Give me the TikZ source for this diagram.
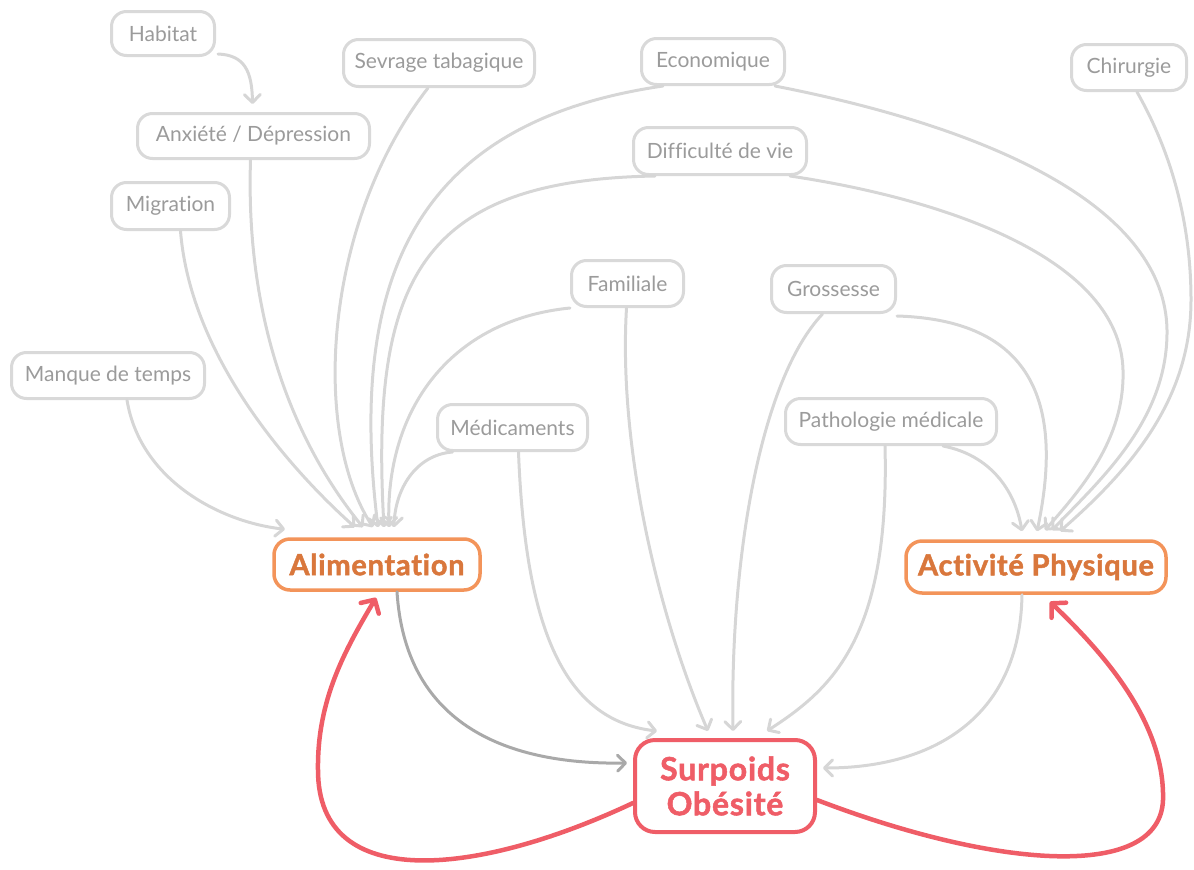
\documentclass[tikz,border=0pt]{standalone}
\usepackage{fontspec}
\setmainfont{Lato}[Ligatures=NoCommon, BoldFeatures={FakeBold=1.6, LetterSpace=2.5}]
\usetikzlibrary{arrows.meta}

\definecolor{boxgray}{HTML}{D9D9D9}
\definecolor{linkgray}{HTML}{D6D6D6}
\definecolor{darklink}{HTML}{A9A9A9}
\definecolor{txtgray}{HTML}{9B9B9B}
\definecolor{orangeline}{HTML}{F3945A}
\definecolor{orangetxt}{HTML}{D9773C}
\definecolor{redline}{HTML}{EF5D67}

\tikzset{
  factor/.style={draw=boxgray, line width=3pt, rounded corners=15pt, fill=white,
    text=txtgray, font=\fontsize{21}{25}\selectfont, inner sep=0pt},
  behaviour/.style={draw=orangeline, line width=3.5pt, rounded corners=16pt, fill=white,
    text=orangetxt, font=\fontsize{29}{34}\selectfont\bfseries, inner sep=0pt},
  outcome/.style={draw=redline, line width=4pt, rounded corners=20pt, fill=white,
    text=redline, font=\fontsize{32}{35}\selectfont\bfseries, inner sep=0pt, align=center},
  link/.style={draw=linkgray, line width=3pt, line cap=round,
    -{Straight Barb[length=8pt,width=16pt,round]}},
  mainlink/.style={link, draw=darklink},
  feedback/.style={draw=redline, line width=4.5pt, line cap=round,
    -{Straight Barb[length=10pt,width=21pt,round]}}
}

\begin{document}
\begin{tikzpicture}[x=1pt, y=-1pt]
\useasboundingbox (0,0) rectangle (1194,870);

% influencing factors
\node[factor, minimum width=103pt, minimum height=44pt] (hab) at (163,33.5) {Habitat};
\node[factor, minimum width=191pt, minimum height=47pt] (sev) at (439,63) {Sevrage tabagique};
\node[factor, minimum width=143pt, minimum height=46pt] (eco) at (713,61.5) {Economique};
\node[factor, minimum width=115pt, minimum height=46pt] (chi) at (1129,67.5) {Chirurgie};
\node[factor, minimum width=232pt, minimum height=45pt] (anx) at (253.5,136) {Anxiété / Dépression};
\node[factor, minimum width=173pt, minimum height=47pt] (dif) at (720,151) {Difficulté de vie};
\node[factor, minimum width=118pt, minimum height=47pt] (mig) at (170.5,206) {Migration};
\node[factor, minimum width=112pt, minimum height=46pt] (fam) at (627.5,283.5) {Familiale};
\node[factor, minimum width=124pt, minimum height=47pt] (gro) at (833.5,289) {Grossesse};
\node[factor, minimum width=193pt, minimum height=46pt] (man) at (108,375.5) {Manque de temps};
\node[factor, minimum width=150pt, minimum height=46pt] (med) at (512.5,427.5) {Médicaments};
\node[factor, minimum width=211pt, minimum height=46pt] (pat) at (891,421.5) {Pathologie médicale};

% behaviours and outcome
\node[behaviour, minimum width=206pt, minimum height=51pt] (ali) at (377,564.5) {Alimentation};
\node[behaviour, minimum width=260pt, minimum height=52pt] (act) at (1036,567) {Activité Physique};
\node[outcome, minimum width=180pt, minimum height=92pt] (sur) at (725,786) {Surpoids\\Obésité};

% factors acting on Alimentation
\draw[link] ([xshift=2pt,yshift=3pt]hab.south east) .. controls (245,55) and (252,72) .. ([xshift=-1pt,yshift=8pt]anx.north);
\draw[link] ([xshift=-3pt]anx.south) .. controls (245,330) and (300,450) .. ([xshift=-14pt,yshift=10pt]ali.north);
\draw[link] ([xshift=10pt]mig.south) .. controls (190,350) and (280,460) .. ([xshift=-22pt,yshift=10pt]ali.north);
\draw[link] ([xshift=19pt]man.south) .. controls (140,480) and (220,522) .. ([xshift=-92pt,yshift=8pt]ali.north);
\draw[link] ([xshift=-11pt]sev.south) .. controls (325,220) and (310,430) .. ([xshift=-4pt,yshift=10pt]ali.north);
\draw[link] ([xshift=-50pt]eco.south) .. controls (430,120) and (345,260) .. ([xshift=1pt,yshift=10pt]ali.north);
\draw[link] ([xshift=-65pt]dif.south) .. controls (420,180) and (370,280) .. ([xshift=7pt,yshift=10pt]ali.north);
\draw[link] (fam.south west) .. controls (450,320) and (385,410) .. ([xshift=12pt,yshift=10pt]ali.north);
\draw[link] ([xshift=-60pt]med.south) .. controls (415,455) and (395,490) .. ([xshift=17pt,yshift=10pt]ali.north);

% factors acting on Activité Physique
\draw[link] ([xshift=62pt]eco.south) .. controls (1000,130) and (1165,210) .. (1167,330)
  .. controls (1168,420) and (1100,480) .. ([xshift=16pt,yshift=9pt]act.north);
\draw[link] ([xshift=8pt]chi.south) .. controls (1170,150) and (1191,220) .. (1191,300)
  .. controls (1191,400) and (1130,470) .. ([xshift=24pt,yshift=8pt]act.north);
\draw[link] ([xshift=70pt]dif.south) .. controls (950,200) and (1120,260) .. (1123,370)
  .. controls (1125,440) and (1080,490) .. ([xshift=9pt,yshift=9pt]act.north);
\draw[link] ([yshift=-2pt]gro.south east) .. controls (1030,320) and (1065,400) .. ([xshift=1pt,yshift=8pt]act.north);
\draw[link] ([xshift=52pt]pat.south) .. controls (990,455) and (1015,490) .. ([xshift=-14pt,yshift=8pt]act.north);

% direct factors on Surpoids / Obésité
\draw[link] ([xshift=6pt]med.south) .. controls (525,620) and (560,720) .. ([xshift=-68pt,yshift=7pt]sur.north);
\draw[link] ([xshift=-1pt]fam.south) .. controls (618,450) and (660,620) .. ([xshift=-17pt,yshift=7pt]sur.north);
\draw[link] ([xshift=-11pt]gro.south) .. controls (760,380) and (730,560) .. ([xshift=8pt,yshift=7pt]sur.north);
\draw[link] ([xshift=-6pt]pat.south) .. controls (890,640) and (830,690) .. ([xshift=42pt,yshift=7pt]sur.north);
\draw[link] ([xshift=-14pt]act.south) .. controls (1020,720) and (930,768) .. ([xshift=6pt,yshift=18pt]sur.east);
\draw[mainlink] ([xshift=20pt]ali.south) .. controls (405,720) and (500,765) .. ([xshift=-6pt,yshift=23pt]sur.west);

% feedback loops
\draw[feedback] ([yshift=-17pt]sur.west) .. controls (480,875) and (318,895) .. (318,770)
  .. controls (317,700) and (345,650) .. ([xshift=-1pt,yshift=-6pt]ali.south);
\draw[feedback] ([yshift=-14pt]sur.east) .. controls (1000,870) and (1160,880) .. (1163,800)
  .. controls (1165,720) and (1100,650) .. ([xshift=14pt,yshift=-7pt]act.south);
\end{tikzpicture}
\end{document}
